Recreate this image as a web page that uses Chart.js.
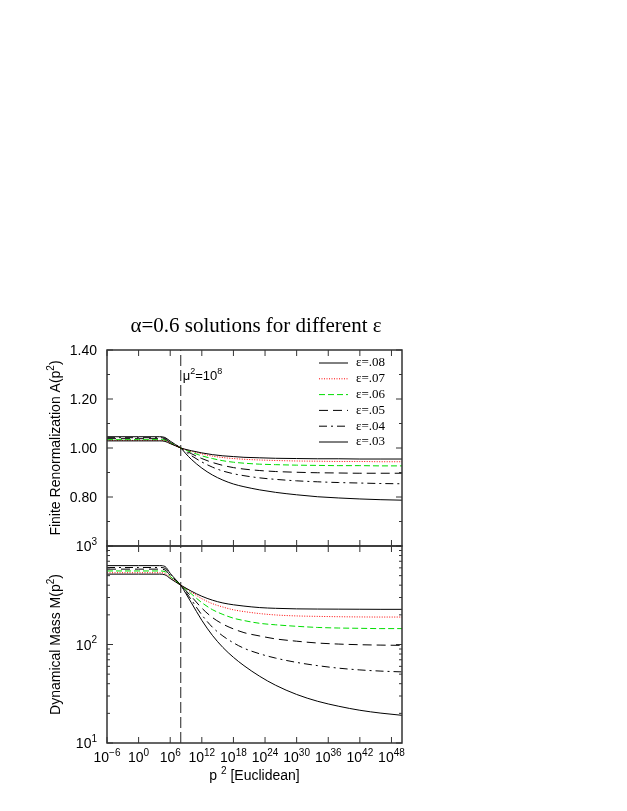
<!DOCTYPE html>
<html>
<head>
<meta charset="utf-8">
<script src="https://cdn.jsdelivr.net/npm/chart.js@4.4.1/dist/chart.umd.min.js"></script>
<style>
  html, body { margin: 0; padding: 0; background: #fff; }
  #wrap { position: relative; width: 627px; height: 811px; }
  #wrap canvas { position: absolute; left: 0; top: 0; }
</style>
</head>
<body>
<div id="wrap">
  <canvas id="topChart" width="627" height="811" style="width:627px;height:811px"></canvas>
  <canvas id="botChart" width="627" height="811" style="width:627px;height:811px"></canvas>
</div>
<script>
// momentum grid, p^2 (Euclidean)
const pSq = [1e-6, 1e0, 1e4, 1e5, 1e6, 1e7, 1e8, 1e9, 1e10, 1e12, 1e14, 1e16, 1e18,
             1e20, 1e23, 1e26, 1e30, 1e34, 1e38, 1e42, 1e46, 1e50];
const epsLabels = ['ε=.08', 'ε=.07', 'ε=.06', 'ε=.05', 'ε=.04', 'ε=.03'];
const muSq = 1e8;

// A(p^2), one array per epsilon
const A08 = [1.029,1.029,1.029,1.027,1.018,1.009,1.000,0.994,0.989,0.980,0.973,0.968,0.965,0.962,0.960,0.958,0.957,0.956,0.956,0.955,0.955,0.955];
const A07 = [1.031,1.031,1.031,1.029,1.019,1.009,1.000,0.993,0.987,0.976,0.967,0.961,0.957,0.954,0.951,0.949,0.947,0.946,0.945,0.945,0.944,0.944];
const A06 = [1.034,1.034,1.034,1.032,1.021,1.010,1.000,0.991,0.983,0.968,0.957,0.948,0.942,0.938,0.934,0.932,0.930,0.929,0.928,0.928,0.927,0.927];
const A05 = [1.038,1.038,1.038,1.035,1.023,1.011,1.000,0.988,0.977,0.957,0.941,0.929,0.920,0.914,0.908,0.904,0.901,0.899,0.898,0.897,0.897,0.897];
const A04 = [1.042,1.042,1.042,1.039,1.025,1.013,1.000,0.984,0.969,0.943,0.922,0.906,0.895,0.887,0.878,0.872,0.866,0.862,0.859,0.857,0.855,0.854];
const A03 = [1.046,1.046,1.046,1.043,1.028,1.014,1.000,0.976,0.954,0.918,0.890,0.869,0.853,0.842,0.829,0.819,0.809,0.801,0.796,0.792,0.789,0.787];

// M(p^2)
const M08 = [518,518,518,510,468,432,400,373,348,309,282,264,253,245.5,237,233,230,229,228.5,228,227.5,227.5];
const M07 = [535,535,535,527,477,436,400,370,341,292,260,240,225,216,206,199.5,195,193,191.4,190.5,190,190];
const M06 = [558,558,558,549,490,443,400,363,327,266,226,202,185,175,164,158.5,153,149,147,146,145,145];
const M05 = [582,582,582,572,502,448,400,351,308,234,188,161,144,132,122,114,108,103.5,101,99.5,98.6,98];
const M04 = [605,605,605,594,514,454,400,339,285,200,150,122,104,91.6,80.4,72.8,65.8,61.0,57.5,55.2,53.7,52.7];
const M03 = [632,632,632,620,528,459,400,327,266,176,124,93.3,74.1,61.0,47.5,38.6,31.1,26.5,23.6,21.5,20.1,19.1];

// ticks
const xTickExp = [-6, 0, 6, 12, 18, 24, 30, 36, 42, 48];
const aTicks = [0.8, 1.0, 1.2, 1.4];
const aMinor = [0.6, 0.7, 0.9, 1.1, 1.3];
const mTickExp = [1, 2, 3];

const lineStyles = [
  { color: '#000', dash: [] },
  { color: '#ff0000', dash: [1, 1.5] },
  { color: '#00dd00', dash: [6, 3] },
  { color: '#000', dash: [9, 5] },
  { color: '#000', dash: [8, 4, 2, 4] },
  { color: '#000', dash: [] }
];

const SANS = '"Liberation Sans", Arial, sans-serif';
const SERIF = '"Liberation Serif", "Times New Roman", serif';

function richText(ctx, parts, x, y, size, align, family) {
  const big = size + 'px ' + family, small = Math.round(size * 0.68) + 'px ' + family;
  let w = 0;
  parts.forEach(([t, s]) => { ctx.font = s ? small : big; w += ctx.measureText(t).width; });
  let cx = align === 'center' ? x - w / 2 : align === 'right' ? x - w : x;
  ctx.textAlign = 'left';
  ctx.textBaseline = 'alphabetic';
  parts.forEach(([t, s]) => {
    ctx.font = s ? small : big;
    ctx.fillText(t, cx, s ? y - size * 0.45 : y);
    cx += ctx.measureText(t).width;
  });
}

function seg(ctx, x1, y1, x2, y2) {
  ctx.beginPath(); ctx.moveTo(x1, y1); ctx.lineTo(x2, y2); ctx.stroke();
}

const panelPlugin = {
  id: 'panel',
  afterDraw(chart, args, o) {
    const ctx = chart.ctx, a = chart.chartArea;
    const xs = chart.scales.x, ys = chart.scales.y;
    ctx.save();
    ctx.strokeStyle = '#333';
    ctx.lineWidth = 1;
    ctx.setLineDash([]);
    xTickExp.forEach(e => {
      const px = xs.getPixelForValue(Math.pow(10, e));
      seg(ctx, px, a.top, px, a.top + 6);
      seg(ctx, px, a.bottom, px, a.bottom - 6);
    });
    o.yMajor.forEach(v => {
      const py = ys.getPixelForValue(v);
      seg(ctx, a.left, py, a.left + 6, py);
      seg(ctx, a.right, py, a.right - 6, py);
    });
    o.yMinor.forEach(v => {
      const py = ys.getPixelForValue(v);
      seg(ctx, a.left, py, a.left + 3, py);
      seg(ctx, a.right, py, a.right - 3, py);
    });
    ctx.lineWidth = 1.5;
    ctx.strokeRect(a.left, a.top, a.right - a.left, a.bottom - a.top);

    ctx.fillStyle = '#000';
    if (o.kind === 'A') {
      aTicks.forEach(v => {
        ctx.font = '14px ' + SANS; ctx.textAlign = 'right'; ctx.textBaseline = 'alphabetic';
        ctx.fillText(v.toFixed(2), a.left - 10, ys.getPixelForValue(v) + 5);
      });
      ctx.save();
      ctx.translate(60, (a.top + a.bottom) / 2);
      ctx.rotate(-Math.PI / 2);
      richText(ctx, [['Finite Renormalization A(p', 0], ['2', 1], [')', 0]], 0, 0, 14, 'center', SANS);
      ctx.restore();
      // title
      ctx.font = '21px ' + SERIF; ctx.textAlign = 'center';
      ctx.fillText('α=0.6 solutions for different ε', 256, 332);
      // mu^2 marker label
      richText(ctx, [['μ', 0], ['2', 1], ['=10', 0], ['8', 1]],
               xs.getPixelForValue(muSq) + 2, a.top + 30, 13, 'left', SANS);
      // legend
      const lds = chart.data.datasets.slice(0, epsLabels.length);
      lds.forEach((ds, i) => {
        const y = a.top + 13 + i * 15.8;
        ctx.strokeStyle = ds.borderColor;
        ctx.lineWidth = 1;
        ctx.setLineDash(ds.borderDash);
        seg(ctx, 319, y, 348, y);
        ctx.setLineDash([]);
        ctx.font = '13px ' + SERIF; ctx.textAlign = 'left'; ctx.textBaseline = 'middle';
        ctx.fillText(ds.label, 356, y);
      });
    } else {
      mTickExp.forEach(e => {
        richText(ctx, [['10', 0], [String(e), 1]], a.left - 10, ys.getPixelForValue(Math.pow(10, e)) + 5, 14, 'right', SANS);
      });
      xTickExp.forEach(e => {
        richText(ctx, [['10', 0], [String(e).replace('-', '−'), 1]], xs.getPixelForValue(Math.pow(10, e)), a.bottom + 19, 14, 'center', SANS);
      });
      richText(ctx, [['p ', 0], ['2', 1], [' [Euclidean]', 0]], (a.left + a.right) / 2, a.bottom + 37, 14, 'center', SANS);
      ctx.save();
      ctx.translate(60, (a.top + a.bottom) / 2);
      ctx.rotate(-Math.PI / 2);
      richText(ctx, [['Dynamical Mass M(p', 0], ['2', 1], [')', 0]], 0, 0, 14, 'center', SANS);
      ctx.restore();
    }
    ctx.restore();
  }
};

function curveSets(series, yMin, yMax) {
  const sets = series.map((vals, i) => ({
    label: epsLabels[i],
    data: pSq.map((p, k) => ({ x: p, y: vals[k] })),
    borderColor: lineStyles[i].color,
    borderDash: lineStyles[i].dash,
    borderWidth: 1,
    pointRadius: 0,
    fill: false,
    cubicInterpolationMode: 'monotone'
  }));
  sets.push({
    label: 'mu',
    data: [{ x: muSq, y: yMin }, { x: muSq, y: yMax }],
    borderColor: '#222',
    borderDash: [11, 4],
    borderWidth: 1,
    pointRadius: 0,
    tension: 0
  });
  return sets;
}

function makeChart(id, datasets, yScale, pad, panel) {
  return new Chart(document.getElementById(id), {
    type: 'line',
    data: { datasets },
    options: {
      responsive: false,
      animation: false,
      layout: { padding: pad },
      scales: {
        x: { type: 'logarithmic', min: 1e-6, max: 1e50, display: false },
        y: Object.assign({ display: false }, yScale)
      },
      plugins: { legend: { display: false }, tooltip: { enabled: false }, panel }
    },
    plugins: [panelPlugin]
  });
}

makeChart('topChart', curveSets([A08, A07, A06, A05, A04, A03], 0.6, 1.4),
  { type: 'linear', min: 0.6, max: 1.4 },
  { left: 107, right: 225, top: 350, bottom: 265 },
  { kind: 'A', yMajor: [0.6, 0.8, 1.0, 1.2, 1.4], yMinor: aMinor });

const mMinor = [];
[10, 100].forEach(d => { for (let k = 2; k <= 9; k++) mMinor.push(k * d); });

makeChart('botChart', curveSets([M08, M07, M06, M05, M04, M03], 10, 1000),
  { type: 'logarithmic', min: 10, max: 1000 },
  { left: 107, right: 225, top: 546, bottom: 68 },
  { kind: 'M', yMajor: mTickExp.map(e => Math.pow(10, e)), yMinor: mMinor });
</script>
</body>
</html>
